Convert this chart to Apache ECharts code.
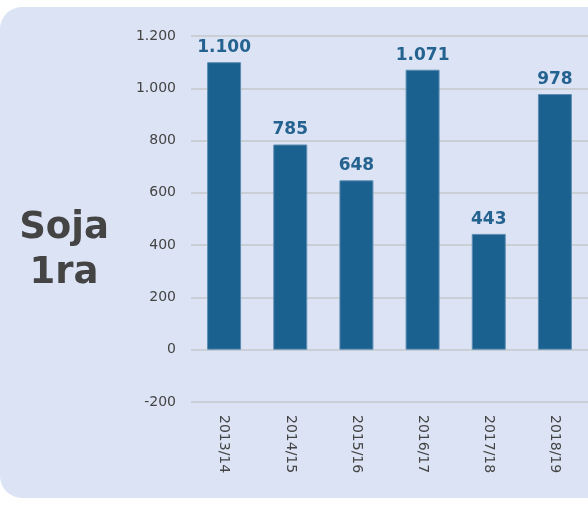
<!DOCTYPE html>
<html>
<head>
<meta charset="utf-8">
<script src="https://cdn.jsdelivr.net/npm/echarts@6/dist/echarts.min.js"></script>
<style>
    html, body { margin: 0; padding: 0; background: #fff; }
    #panel {
        position: absolute; left: 0; top: 7px; width: 620px; height: 491px;
        background: #dbe3f4; border-radius: 22px;
    }
    #chart { position: absolute; left: 0; top: 0; width: 588px; height: 505px; }
</style>
</head>
<body>
<div id="panel"></div>
<div id="chart"></div>
<script>
// campañas
var categories = ['2013/14', '2014/15', '2015/16', '2016/17', '2017/18', '2018/19']
// valores
var values = [1100, 785, 648, 1071, 443, 978]
var title = 'Soja\n1ra'

var FONT = '"DejaVu Sans", Verdana, sans-serif'

// separador de miles con punto
function fmt(v) {
    return String(v).replace(/\B(?=(\d{3})+(?!\d))/g, '.')
}

var myChart = echarts.init(document.getElementById('chart'))
var option = {
    backgroundColor: 'transparent',
    title: {
        text: title,
        left: 59,
        top: 201,
        textAlign: 'center',
        textStyle: {
            fontFamily: FONT,
            fontSize: 37,
            fontWeight: 'bold',
            color: '#444',
            lineHeight: 45,
        },
    },
    grid: {
        left: 191,
        top: 36,
        bottom: 103,
        width: 402,
    },
    xAxis: {
        type: 'category',
        data: categories,
        axisLine: { show: false },
        axisTick: { show: false },
        axisLabel: {
            rotate: -90,
            margin: 13,
            fontFamily: FONT,
            fontSize: 14,
            color: '#444',
        },
    },
    yAxis: {
        type: 'value',
        min: -200,
        max: 1200,
        interval: 200,
        axisLine: { show: false },
        axisTick: { show: false },
        axisLabel: {
            margin: 15,
            fontFamily: FONT,
            fontSize: 14,
            color: '#444',
            formatter: fmt,
        },
        splitLine: {
            lineStyle: { color: '#c5c8cd', width: 1.5 },
        },
    },
    series: [
        {
            type: 'bar',
            data: values,
            barWidth: 34,
            itemStyle: {
                color: '#1a618f',
                borderColor: '#5f8db2',
                borderWidth: 1,
            },
            label: {
                show: true,
                position: 'top',
                distance: 6,
                fontFamily: FONT,
                fontSize: 17,
                fontWeight: 'bold',
                color: '#24628f',
                formatter: function (p) {
                    return fmt(p.value)
                },
            },
        },
    ],
}
myChart.setOption(option)
</script>
</body>
</html>
